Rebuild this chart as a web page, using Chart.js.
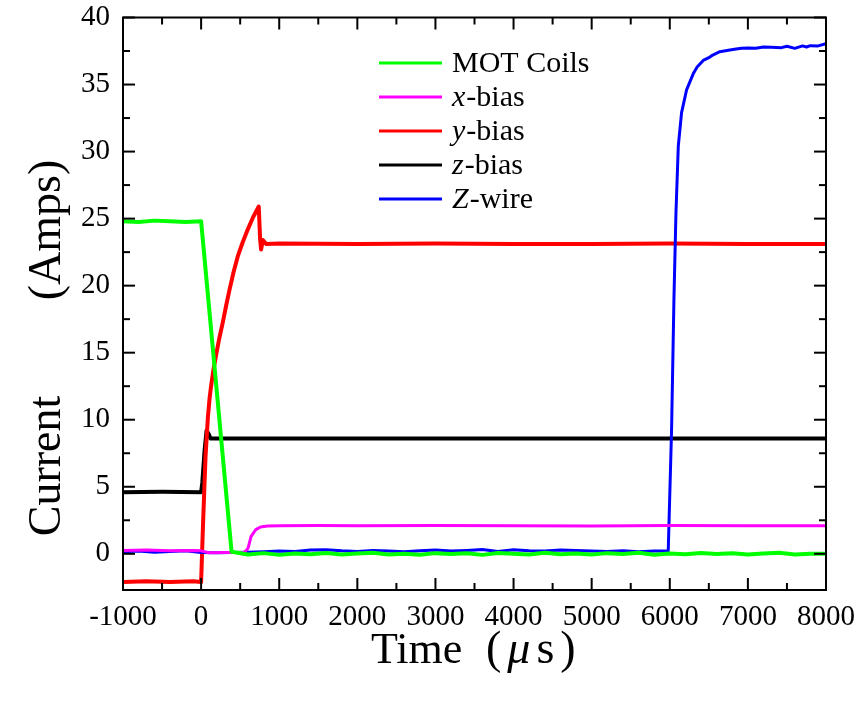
<!DOCTYPE html>
<html>
<head>
<meta charset="utf-8">
<script src="https://cdn.jsdelivr.net/npm/chart.js@4.4.1/dist/chart.umd.min.js"></script>
<style>
  body { margin: 0; background: #fff; }
  canvas { display: block; }
</style>
</head>
<body>
<canvas id="currentChart" width="865" height="702"></canvas>
<script>
// Axis ticks
const xTicks = [-1000, 0, 1000, 2000, 3000, 4000, 5000, 6000, 7000, 8000];
const xMinorTicks = [-500, 500, 1500, 2500, 3500, 4500, 5500, 6500, 7500];
const yTicks = [0, 5, 10, 15, 20, 25, 30, 35, 40];
const yMinorTicks = [2.5, 7.5, 12.5, 17.5, 22.5, 27.5, 32.5, 37.5];

// MOT Coils
const motTime = [-1000, -800, -600, -400, -200, 0, 390, 600, 800, 1000, 1200, 1400, 1600, 1800, 2000, 2200,
    2400, 2600, 2800, 3000, 3200, 3400, 3600, 3800, 4000, 4200, 4400, 4600, 4800, 5000, 5200, 5400, 5600,
    5800, 6000, 6200, 6400, 6600, 6800, 7000, 7200, 7400, 7600, 7800, 8000];
const motCurrent = [24.8, 24.75, 24.85, 24.8, 24.75, 24.8, 0.15, -0.05, 0.05, -0.08, 0.03, -0.04, 0.06, -0.06,
    0.02, 0.07, -0.05, 0.01, -0.07, 0.05, -0.02, 0.04, -0.08, 0.06, 0.0, -0.05, 0.07, -0.03, 0.03, -0.06, 0.05,
    -0.01, 0.08, -0.07, 0.02, -0.04, 0.06, -0.02, 0.04, -0.06, 0.03, 0.07, -0.05, 0.01, 0.0];

// x-bias
const xBiasTime = [-1000, -700, -400, -100, 0, 100, 300, 550, 600, 640, 700, 760, 850, 1000, 1500, 2000,
    3000, 4000, 5000, 6000, 7000, 8000];
const xBiasCurrent = [0.25, 0.28, 0.22, 0.25, 0.22, 0.08, 0.1, 0.1, 0.4, 1.3, 1.8, 2.0, 2.08, 2.1, 2.12, 2.1,
    2.12, 2.1, 2.08, 2.12, 2.1, 2.1];

// y-bias
const yBiasTime = [-1000, -700, -400, -100, 0, 25, 57, 87, 110, 130, 160, 194, 230, 279, 320, 364, 415, 470,
    530, 598, 665, 738, 755, 768, 790, 832, 1000, 2000, 3000, 4000, 5000, 6000, 7000, 8000];
const yBiasCurrent = [-2.1, -2.05, -2.1, -2.05, -2.1, 2.3, 7.3, 10.2, 11.7, 12.6, 13.8, 14.9, 16.0, 17.3, 18.5,
    19.7, 21.0, 22.2, 23.2, 24.2, 25.1, 25.9, 23.5, 22.7, 23.4, 23.1, 23.15, 23.1, 23.15, 23.1, 23.1, 23.15,
    23.1, 23.1];

// z-bias
const zBiasTime = [-1000, -500, 0, 15, 45, 70, 100, 120, 300, 1000, 2000, 4000, 6000, 8000];
const zBiasCurrent = [4.6, 4.62, 4.6, 5.3, 7.75, 9.2, 8.9, 8.6, 8.6, 8.6, 8.6, 8.6, 8.6, 8.6];

// Z-wire
const zWireTime = [-1000, -800, -600, -400, -200, 0, 200, 400, 600, 800, 1000, 1200, 1400, 1600, 1800, 2000,
    2200, 2400, 2600, 2800, 3000, 3200, 3400, 3600, 3800, 4000, 4200, 4400, 4600, 4800, 5000, 5200, 5400,
    5600, 5800, 5980, 6023, 6054, 6079, 6109, 6151, 6215, 6300, 6350, 6428, 6500, 6550, 6641, 6750, 6850,
    6917, 7005, 7100, 7200, 7300, 7430, 7500, 7600, 7700, 7750, 7800, 7900, 7985, 8000];
const zWireCurrent = [0.15, 0.2, 0.12, 0.18, 0.22, 0.1, 0.08, 0.1, 0.12, 0.15, 0.2, 0.18, 0.28, 0.3, 0.22,
    0.18, 0.25, 0.2, 0.15, 0.22, 0.28, 0.2, 0.25, 0.32, 0.18, 0.3, 0.22, 0.2, 0.28, 0.24, 0.2, 0.18, 0.22,
    0.16, 0.2, 0.2, 9.25, 19.2, 25.4, 30.4, 32.9, 34.6, 35.8, 36.3, 36.8, 37.0, 37.2, 37.45, 37.55, 37.65,
    37.7, 37.72, 37.7, 37.8, 37.78, 37.75, 37.85, 37.7, 37.88, 37.8, 37.9, 37.88, 38.02, 38.0];

// legend: [italic part, plain part]
const legendParts = [['', 'MOT Coils'], ['x', '-bias'], ['y', '-bias'], ['z', '-bias'], ['Z', '-wire']];

const SERIF = '"Liberation Serif", "Times New Roman", serif';
Chart.defaults.font.family = SERIF;
Chart.defaults.color = '#000';

function toPoints(times, values) {
    return times.map((t, i) => ({ x: t, y: values[i] }));
}

const datasets = [
    { label: 'MOT Coils', data: toPoints(motTime, motCurrent), borderColor: '#00ff00', borderWidth: 4, order: 0 },
    { label: 'x-bias', data: toPoints(xBiasTime, xBiasCurrent), borderColor: '#ff00ff', borderWidth: 3, order: 1 },
    { label: 'y-bias', data: toPoints(yBiasTime, yBiasCurrent), borderColor: '#ff0000', borderWidth: 4, order: 3 },
    { label: 'z-bias', data: toPoints(zBiasTime, zBiasCurrent), borderColor: '#000000', borderWidth: 4, order: 4 },
    { label: 'Z-wire', data: toPoints(zWireTime, zWireCurrent), borderColor: '#0000ff', borderWidth: 3, order: 2 }
];

// frame with inward ticks on all four sides
const frameTicks = {
    id: 'frameTicks',
    afterDatasetsDraw(chart) {
        const { ctx, chartArea: a, scales: { x, y } } = chart;
        ctx.save();
        ctx.strokeStyle = '#000';
        ctx.lineWidth = 2;
        const seg = (x1, y1, x2, y2) => {
            ctx.beginPath();
            ctx.moveTo(x1, y1);
            ctx.lineTo(x2, y2);
            ctx.stroke();
        };
        xTicks.forEach(v => {
            const px = x.getPixelForValue(v);
            seg(px, a.bottom, px, a.bottom - 12);
            seg(px, a.top, px, a.top + 12);
        });
        xMinorTicks.forEach(v => {
            const px = x.getPixelForValue(v);
            seg(px, a.bottom, px, a.bottom - 7);
            seg(px, a.top, px, a.top + 7);
        });
        yTicks.forEach(v => {
            const py = y.getPixelForValue(v);
            seg(a.left, py, a.left + 12, py);
            seg(a.right, py, a.right - 12, py);
        });
        yMinorTicks.forEach(v => {
            const py = y.getPixelForValue(v);
            seg(a.left, py, a.left + 7, py);
            seg(a.right, py, a.right - 7, py);
        });
        ctx.strokeRect(a.left, a.top, a.right - a.left, a.bottom - a.top);
        ctx.restore();
    }
};

// axis titles and the legend box
const titlesLegend = {
    id: 'titlesLegend',
    afterDraw(chart) {
        const { ctx } = chart;
        ctx.save();
        ctx.fillStyle = '#000';
        ctx.textBaseline = 'alphabetic';

        // y title
        ctx.font = '46px ' + SERIF;
        ctx.textAlign = 'center';
        ctx.save();
        ctx.translate(60, 466);
        ctx.rotate(-Math.PI / 2);
        ctx.fillText('Current', 0, 0);
        ctx.restore();
        ctx.save();
        ctx.translate(60, 230);
        ctx.rotate(-Math.PI / 2);
        ctx.fillText('(Amps)', 0, 0);
        ctx.restore();

        // x title
        ctx.textAlign = 'left';
        ctx.font = '44px ' + SERIF;
        ctx.fillText('Time', 371, 663);
        let cx = 486;
        const pieces = [['(', false], ['\u03bc', true], ['s', false], [')', false]];
        pieces.forEach(([txt, ital]) => {
            ctx.font = (ital ? 'italic ' : '') + '46px ' + SERIF;
            ctx.fillText(txt, cx, 663);
            cx += ctx.measureText(txt).width + 6;
        });

        // legend
        datasets.forEach((ds, i) => {
            const ly = 63 + i * 34;
            ctx.strokeStyle = ds.borderColor;
            ctx.lineWidth = 3;
            ctx.beginPath();
            ctx.moveTo(379, ly);
            ctx.lineTo(442, ly);
            ctx.stroke();
            let tx = 452;
            const [ital, plain] = legendParts[i];
            if (ital) {
                ctx.font = 'italic 30px ' + SERIF;
                ctx.fillText(ital, tx, ly + 9);
                tx += ctx.measureText(ital).width + 1;
            }
            ctx.font = '30px ' + SERIF;
            ctx.fillText(plain, tx, ly + 9);
        });
        ctx.restore();
    }
};

new Chart(document.getElementById('currentChart').getContext('2d'), {
    type: 'line',
    data: { datasets: datasets },
    options: {
        responsive: false,
        animation: false,
        devicePixelRatio: 1,
        layout: { padding: { left: 0, top: 17.5, right: 37, bottom: 0 } },
        elements: {
            point: { radius: 0 },
            line: { tension: 0, borderCapStyle: 'butt', borderJoinStyle: 'round' }
        },
        plugins: {
            legend: { display: false },
            tooltip: { enabled: false }
        },
        scales: {
            x: {
                type: 'linear',
                min: -1000,
                max: 8000,
                afterBuildTicks: s => { s.ticks = xTicks.map(v => ({ value: v })); },
                afterFit: s => { s.height = 112; },
                grid: { display: false, drawTicks: false },
                border: { display: false },
                ticks: {
                    padding: 10,
                    maxRotation: 0,
                    autoSkip: false,
                    font: { size: 29 },
                    callback: v => String(v)
                }
            },
            y: {
                type: 'linear',
                min: -2.7,
                max: 40,
                afterBuildTicks: s => { s.ticks = yTicks.map(v => ({ value: v })); },
                afterFit: s => { s.width = 123; },
                grid: { display: false, drawTicks: false },
                border: { display: false },
                ticks: {
                    padding: 13,
                    autoSkip: false,
                    font: { size: 29, lineHeight: 0.1 },
                    callback: v => String(v)
                }
            }
        }
    },
    plugins: [frameTicks, titlesLegend]
});
</script>
</body>
</html>
